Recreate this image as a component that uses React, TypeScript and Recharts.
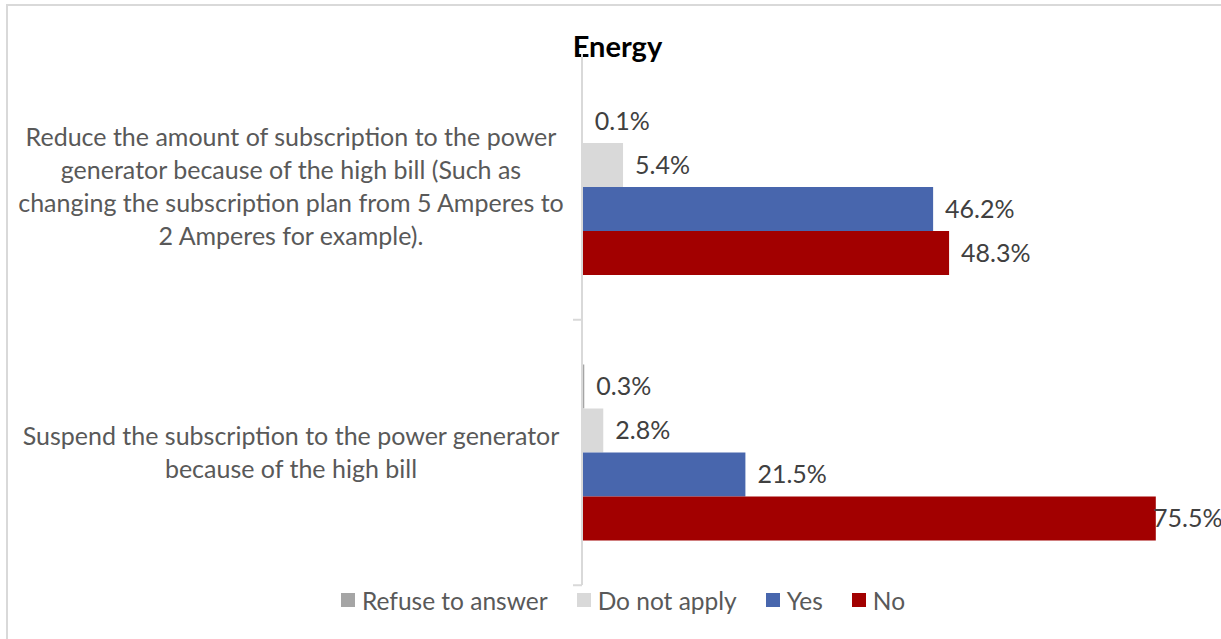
import React from 'react';
import { BarChart, Bar, XAxis, YAxis, LabelList } from 'recharts';

const categories = [
  'Reduce the amount of subscription to the power generator because of the high bill (Such as changing the subscription plan from 5 Amperes to 2 Amperes for example).',
  'Suspend the subscription to the power generator because of the high bill',
];
const categoryLines = [
  [
    'Reduce the amount of subscription to the power',
    'generator because of the high bill (Such as',
    'changing the subscription plan from 5 Amperes to',
    '2 Amperes for example).',
  ],
  ['Suspend the subscription to the power generator', 'because of the high bill'],
];
const refuseValues = [0.001, 0.003];
const notApplyValues = [0.054, 0.028];
const yesValues = [0.462, 0.215];
const noValues = [0.483, 0.755];

const series = [
  { key: 'refuse', name: 'Refuse to answer', color: '#A5A5A5' },
  { key: 'notApply', name: 'Do not apply', color: '#D9D9D9' },
  { key: 'yes', name: 'Yes', color: '#4866AD' },
  { key: 'no', name: 'No', color: '#A20000' },
];

const data = categories.map((name, i) => ({
  name,
  refuse: refuseValues[i],
  notApply: notApplyValues[i],
  yes: yesValues[i],
  no: noValues[i],
}));

const FONT = 'Lato, "Noto Sans", sans-serif';
const HALF_BAND = 133;

const CategoryTick = (props: any) => {
  const { x, y, payload } = props;
  const lines: string[] = categoryLines[payload.index] || [payload.value];
  const lh = 33;
  const start = y - ((lines.length - 1) * lh) / 2;
  return (
    <g>
      <text x={291} textAnchor="middle" fill="#595959" fontSize={25} fontFamily={FONT}>
        {lines.map((l, i) => (
          <tspan key={i} x={291} y={start + i * lh} dy="0.35em">
            {l}
          </tspan>
        ))}
      </text>
      <line x1={x - 1} x2={x + 8} y1={y + HALF_BAND} y2={y + HALF_BAND} stroke="#D9D9D9" strokeWidth={2} />
    </g>
  );
};

const ValueLabel = (props: any) => {
  const { x, y, width, height, value } = props;
  const lx = Math.min(x + width + 12, 1153);
  return (
    <text x={lx} y={y + height / 2} dy="0.35em" fill="#404040" fontSize={25} fontFamily={FONT}>
      {(value * 100).toFixed(1)}%
    </text>
  );
};

const LegendBox = () => (
  <div
    style={{
      position: 'absolute',
      left: 0,
      top: 585,
      width: 1246,
      height: 30,
      display: 'flex',
      justifyContent: 'center',
      alignItems: 'center',
      gap: 29,
      fontFamily: FONT,
      fontSize: 24.5,
      color: '#595959',
    }}
  >
    {series.map((s) => (
      <div key={s.key} style={{ display: 'flex', alignItems: 'center' }}>
        <span style={{ width: 14, height: 14, background: s.color, marginRight: 7, display: 'inline-block' }} />
        <span>{s.name}</span>
      </div>
    ))}
  </div>
);

export default function App() {
  return (
    <div style={{ position: 'absolute', left: 0, top: 0, width: 1221, height: 639, overflow: 'hidden', background: '#fff' }}>
      <div style={{ position: 'absolute', left: 6, top: 4, width: 1400, height: 800, border: '2px solid #D9D9D9', boxSizing: 'border-box' }} />
      <div style={{ position: 'absolute', left: 0, top: 28, width: 1235, textAlign: 'center', fontFamily: FONT, fontWeight: 'bold', fontSize: 29, color: '#000' }}>
        Energy
      </div>
      <div style={{ position: 'absolute', left: 0, top: 0 }}>
        <BarChart
          width={1221}
          height={639}
          data={data}
          layout="vertical"
          margin={{ top: 54, right: 31, bottom: 54, left: 0 }}
          barCategoryGap={45}
          barGap={0}
        >
          <XAxis type="number" domain={[0, 0.8]} hide />
          <YAxis
            type="category"
            dataKey="name"
            width={582}
            tick={<CategoryTick />}
            axisLine={{ stroke: '#D9D9D9', strokeWidth: 2 }}
            tickLine={false}
            interval={0}
          />
          {series.map((s) => (
            <Bar key={s.key} dataKey={s.key} name={s.name} fill={s.color} isAnimationActive={false}>
              <LabelList dataKey={s.key} content={<ValueLabel />} />
            </Bar>
          ))}
        </BarChart>
      </div>
      <LegendBox />
    </div>
  );
}
